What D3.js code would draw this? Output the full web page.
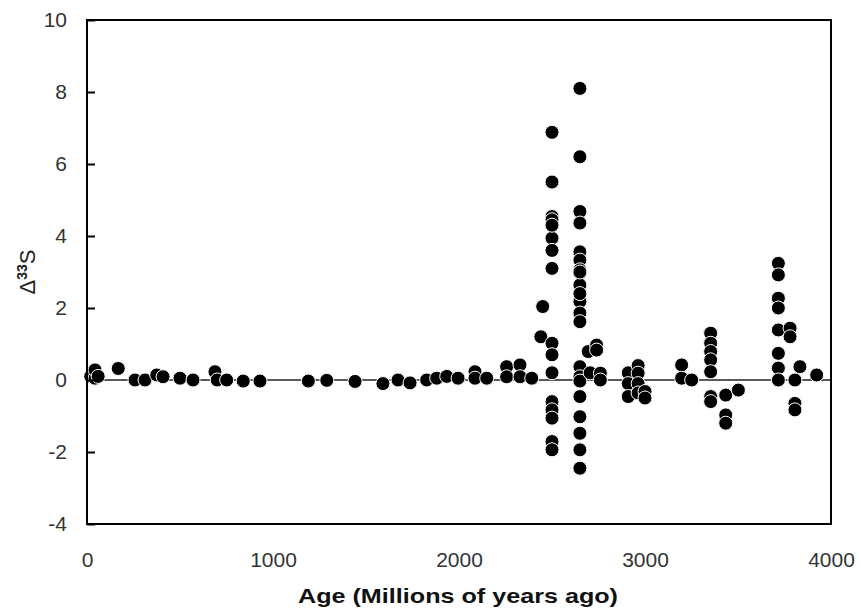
<!DOCTYPE html>
<html><head><meta charset="utf-8">
<script src="https://cdn.jsdelivr.net/npm/d3@7"></script>
<style>body{margin:0;background:#fff}svg{display:block}</style>
</head><body>
<script>
// Data: age (Ma) and Δ33S (‰)
const ages = [
  20, 43, 43, 60, 168, 258, 312, 375, 409, 500, 570, 688, 700, 751, 840, 930,
  1190, 1289, 1441, 1591, 1672, 1737, 1826, 1880, 1934, 1995, 2086, 2086, 2149,
  2256, 2256, 2328, 2328, 2391,
  2440, 2450, 2500, 2500, 2500, 2500, 2500, 2500, 2500, 2500, 2500, 2500, 2500, 2500, 2500, 2500, 2500, 2500,
  2650, 2650, 2650, 2650, 2650, 2650, 2650, 2650, 2650, 2650, 2650, 2650, 2650, 2650, 2650, 2650, 2650, 2650, 2650,
  2695, 2705, 2740, 2740, 2760, 2760,
  2910, 2910, 2910, 2963, 2963, 2963, 2963, 3000, 3000,
  3197, 3197, 3251,
  3353, 3353, 3353, 3353, 3353, 3353, 3353,
  3434, 3434, 3434, 3502,
  3717, 3717, 3717, 3717, 3717, 3717, 3717, 3717,
  3780, 3780, 3806, 3806, 3806, 3833, 3923,
  2650, 2650, 2650
];
const d33S = [
  0.1, 0.05, 0.28, 0.1, 0.32, 0.0, 0.0, 0.14, 0.09, 0.05, 0.0, 0.23, 0.0, 0.0, -0.03, -0.03,
  -0.03, -0.01, -0.04, -0.1, 0.0, -0.08, 0.0, 0.05, 0.1, 0.05, 0.23, 0.05, 0.05,
  0.37, 0.09, 0.42, 0.09, 0.05,
  1.2, 2.04, 6.88, 5.5, 4.54, 4.45, 3.94, 3.6, 3.1, 1.02, 0.7, 0.2, -0.6, -0.83, -1.06, -1.71, -1.94, 4.3,
  8.1, 6.2, 4.68, 4.36, 3.56, 3.33, 3.06, 2.97, 2.64, 2.18, 1.86, 1.62, 0.37, 0.09, -0.03, -0.46, -1.02, -1.48, -1.94,
  0.79, 0.2, 0.97, 0.83, 0.19, 0.0,
  0.2, -0.1, -0.46, 0.4, 0.19, -0.1, -0.36, -0.32, -0.5,
  0.42, 0.05, 0.0,
  1.3, 1.02, 0.79, 0.56, 0.23, -0.46, -0.6,
  -0.42, -0.97, -1.2, -0.28,
  3.24, 2.92, 2.27, 2.0, 1.39, 0.74, 0.33, 0.0,
  1.44, 1.2, 0.0, -0.65, -0.83, 0.37, 0.14,
  -2.45, 3.0, 2.4
];

const xTicks = [0, 1000, 2000, 3000, 4000];
const yTicks = [-4, -2, 0, 2, 4, 6, 8, 10];

const W = 861, H = 610;
const L = 87, R = 831, T = 20, B = 524;
const FONT = "Liberation Sans, Arial, sans-serif";

const svg = d3.select("body").append("svg").attr("width", W).attr("height", H);
const x = d3.scaleLinear().domain([0, 4000]).range([L, R]);
const y = d3.scaleLinear().domain([-4, 10]).range([B, T]);

// zero line
svg.append("line")
  .attr("x1", x(0)).attr("x2", x(4000))
  .attr("y1", y(0)).attr("y2", y(0))
  .attr("stroke", "#222").attr("stroke-width", 1.3);

// points
svg.append("g").selectAll("circle")
  .data(ages.map((a, i) => [a, d33S[i]]))
  .join("circle")
  .attr("cx", d => x(d[0])).attr("cy", d => y(d[1]))
  .attr("r", 7)
  .attr("fill", "#000")
  .attr("stroke", "#fff").attr("stroke-width", 1);

// y axis (ticks inward)
const yAxis = d3.axisLeft(y).tickValues(yTicks).tickSize(-8).tickPadding(20).tickFormat(d => String(d));
const gy = svg.append("g").attr("transform", `translate(${L},0)`).call(yAxis);
gy.select(".domain").remove();
gy.selectAll(".tick line").attr("stroke", "#000").attr("stroke-width", 2);
gy.selectAll("text").attr("font-family", FONT).attr("font-size", 21).attr("fill", "#333");

// x axis labels only
const xAxis = d3.axisBottom(x).tickValues(xTicks).tickSize(0).tickPadding(28).tickFormat(d => String(d));
const gx = svg.append("g").attr("transform", `translate(0,${B})`).call(xAxis);
gx.select(".domain").remove();
gx.selectAll("text").attr("font-family", FONT).attr("font-size", 21).attr("fill", "#333");

// frame
svg.append("rect").attr("x", L).attr("y", T).attr("width", R - L).attr("height", B - T)
  .attr("fill", "none").attr("stroke", "#000").attr("stroke-width", 2);

// titles
svg.append("text").attr("x", 458).attr("y", 603)
  .attr("text-anchor", "middle").attr("font-family", FONT)
  .attr("font-size", 21).attr("font-weight", "bold").attr("fill", "#111")
  .attr("textLength", 320).attr("lengthAdjust", "spacingAndGlyphs")
  .text("Age (Millions of years ago)");

const yt = svg.append("text").attr("transform", "translate(35,272) rotate(-90)")
  .attr("text-anchor", "middle").attr("font-family", FONT)
  .attr("font-size", 22).attr("fill", "#222");
yt.append("tspan").text("Δ");
yt.append("tspan").attr("font-size", 14).attr("font-weight", "bold").attr("dy", -8).text("33");
yt.append("tspan").attr("dy", 8).text("S");
</script>
</body></html>
